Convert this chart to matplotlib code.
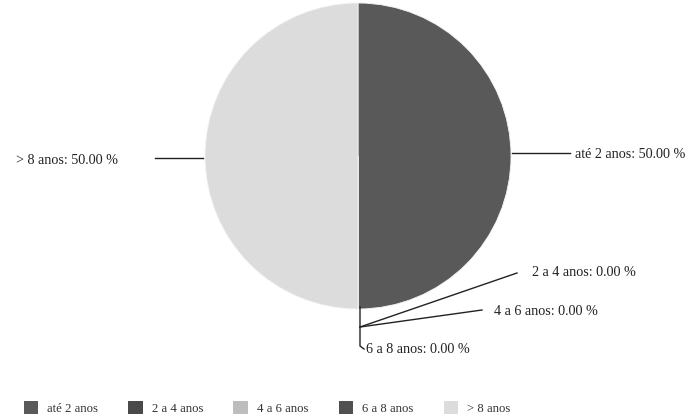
import numpy as np
import matplotlib.pyplot as plt
from matplotlib.patches import Patch

# Tempo de servico - distribuicao
categorias = ['até 2 anos', '2 a 4 anos', '4 a 6 anos', '6 a 8 anos', '> 8 anos']
percentuais = [50.0, 0.0, 0.0, 0.0, 50.0]
cores = ['#595959', '#4a4a4a', '#bdbdbd', '#505050', '#dcdcdc']

plt.rcParams['font.family'] = ['Liberation Serif', 'DejaVu Serif']

W, H = 690, 416
cx, cy, R = 358, 156, 153   # pie centre / radius in pixels


def px(x, y):
    # pixel coords -> data coords (pie radius = 1)
    return (x - cx) / R, (cy - y) / R


fig = plt.figure(figsize=(W / 100, H / 100), dpi=100)
ax = fig.add_axes([0, 0, 1, 1])
ax.set_xlim(-cx / R, (W - cx) / R)
ax.set_ylim((cy - H) / R, cy / R)
ax.set_aspect('equal')

wedges, _ = ax.pie(percentuais, colors=cores, startangle=90, counterclock=False,
                   radius=1.0, center=(0, 0), frame=True,
                   wedgeprops=dict(linewidth=0.6, edgecolor='#f4f4f4'))
ax.axis('off')

lbl = [f'{c}: {p:.2f} %' for c, p in zip(categorias, percentuais)]
kw = dict(fontsize=10.2, color='#222222', va='center')
lk = dict(color='#222222', lw=1.0)

# até 2 anos
ax.plot(*zip(px(512, 153), px(570, 153)), **lk)
ax.text(*px(575, 154), lbl[0], ha='left', **kw)
# > 8 anos
ax.plot(*zip(px(155, 158), px(203, 158)), **lk)
ax.text(*px(118, 160), lbl[4], ha='right', **kw)
# zero slices at the bottom
ax.plot(*zip(px(360, 307), px(360, 346), px(364, 349)), **lk)
ax.plot(*zip(px(360, 327), px(517, 273)), **lk)
ax.plot(*zip(px(360, 327), px(482, 310)), **lk)
ax.text(*px(532, 272), lbl[1], ha='left', **kw)
ax.text(*px(494, 311), lbl[2], ha='left', **kw)
ax.text(*px(366, 349), lbl[3], ha='left', **kw)

handles = [Patch(facecolor=c, edgecolor='none') for c in cores]
fig.legend(handles, categorias, loc='center left', bbox_to_anchor=(12 / W, (H - 408) / H),
           ncol=5, frameon=False, fontsize=9.2, handlelength=1.15, handleheight=1.15,
           columnspacing=2.35, handletextpad=0.7, labelcolor='#333333')

fig.savefig('out.png', dpi=100, facecolor='white')
